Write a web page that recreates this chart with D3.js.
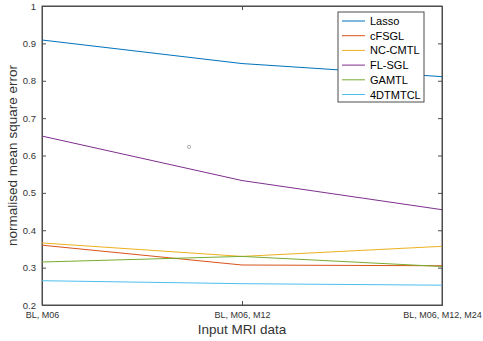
<!DOCTYPE html>
<html>
<head>
<meta charset="utf-8">
<script src="https://cdn.jsdelivr.net/npm/d3@7"></script>
<style>
  body { margin: 0; background: #fff; }
  svg { font-family: "Liberation Sans", Arial, sans-serif; }
</style>
</head>
<body>
<div id="chart"></div>
<script>
// x categories
const categories = ['BL, M06', 'BL, M06, M12', 'BL, M06, M12, M24'];
const yTicks = [0.2, 0.3, 0.4, 0.5, 0.6, 0.7, 0.8, 0.9, 1];

// series values
const lasso   = [0.909, 0.846, 0.811];
const cfsgl   = [0.360, 0.307, 0.305];
const nccmtl  = [0.366, 0.330, 0.357];
const flsgl   = [0.652, 0.533, 0.455];
const gamtl   = [0.315, 0.330, 0.303];
const dtmtcl  = [0.265, 0.257, 0.253];
const seriesNames = ['Lasso', 'cFSGL', 'NC-CMTL', 'FL-SGL', 'GAMTL', '4DTMTCL'];
const colors = ['#0072BD', '#D95319', '#EDB120', '#7E2F8E', '#77AC30', '#4DBEEE'];

// stray marker in the plot (index position, value)
const strayPoint = [[0.735, 0.623]];

const W = 483, H = 341;
const margin = {left: 42, right: 41, top: 6, bottom: 36};

const svg = d3.select('#chart').append('svg').attr('width', W).attr('height', H);

const x = d3.scaleLinear().domain([0, categories.length - 1]).range([margin.left, W - margin.right]);
const y = d3.scaleLinear().domain([0.2, 1]).range([H - margin.bottom, margin.top]);

const axisColor = '#4d4d4d';
const tickColor = '#333';

// box
svg.append('rect')
  .attr('x', margin.left).attr('y', margin.top)
  .attr('width', W - margin.left - margin.right)
  .attr('height', H - margin.top - margin.bottom)
  .attr('fill', 'none').attr('stroke', axisColor).attr('stroke-width', 1);

// y axis left
const yAxis = svg.append('g')
  .attr('transform', `translate(${margin.left},0)`)
  .call(d3.axisLeft(y).tickValues(yTicks).tickSize(-4).tickPadding(6).tickFormat(d3.format('~g')));
yAxis.select('.domain').attr('stroke', axisColor);
yAxis.selectAll('.tick line').attr('stroke', axisColor);
yAxis.selectAll('text').attr('fill', tickColor).attr('font-size', 9.5);

// y ticks right
const yAxisR = svg.append('g')
  .attr('transform', `translate(${W - margin.right},0)`)
  .call(d3.axisRight(y).tickValues(yTicks).tickSize(-4).tickFormat(''));
yAxisR.select('.domain').attr('stroke', axisColor);
yAxisR.selectAll('.tick line').attr('stroke', axisColor);

// x axis bottom
const xAxis = svg.append('g')
  .attr('transform', `translate(0,${H - margin.bottom})`)
  .call(d3.axisBottom(x).tickValues([0, 1, 2]).tickSize(-4).tickPadding(7).tickFormat(i => categories[i]));
xAxis.select('.domain').attr('stroke', axisColor);
xAxis.selectAll('.tick line').attr('stroke', axisColor);
xAxis.selectAll('text').attr('fill', tickColor).attr('font-size', 9);

// x ticks top
const xAxisT = svg.append('g')
  .attr('transform', `translate(0,${margin.top})`)
  .call(d3.axisTop(x).tickValues([0, 1, 2]).tickSize(-4).tickFormat(''));
xAxisT.select('.domain').attr('stroke', axisColor);
xAxisT.selectAll('.tick line').attr('stroke', axisColor);

// labels
svg.append('text')
  .attr('x', (margin.left + W - margin.right) / 2).attr('y', 334)
  .attr('text-anchor', 'middle').attr('font-size', 13.5).attr('fill', tickColor)
  .text('Input MRI data');
svg.append('text')
  .attr('transform', `translate(17,${(margin.top + H - margin.bottom) / 2}) rotate(-90)`)
  .attr('text-anchor', 'middle').attr('font-size', 13.5).attr('fill', tickColor)
  .text('normalised mean square error');

// lines
const allSeries = [lasso, cfsgl, nccmtl, flsgl, gamtl, dtmtcl];
const line = d3.line().x((d, i) => x(i)).y(d => y(d));
allSeries.forEach((s, k) => {
  svg.append('path')
    .attr('d', line(s))
    .attr('fill', 'none')
    .attr('stroke', colors[k])
    .attr('stroke-width', 1);
});

svg.selectAll('.stray').data(strayPoint).enter().append('circle')
  .attr('cx', d => x(d[0])).attr('cy', d => y(d[1])).attr('r', 1.6)
  .attr('fill', 'none').attr('stroke', '#999').attr('stroke-width', 0.8);

// legend
const lg = svg.append('g').attr('transform', 'translate(338,12)');
lg.append('rect').attr('width', 86).attr('height', 90)
  .attr('fill', '#fff').attr('stroke', axisColor).attr('stroke-width', 1);
seriesNames.forEach((name, k) => {
  const yy = 9 + k * 14.7;
  lg.append('line').attr('x1', 4).attr('x2', 27).attr('y1', yy).attr('y2', yy)
    .attr('stroke', colors[k]).attr('stroke-width', 1);
  lg.append('text').attr('x', 32).attr('y', yy + 4)
    .attr('font-size', 11).attr('fill', '#000').text(name);
});
</script>
</body>
</html>
